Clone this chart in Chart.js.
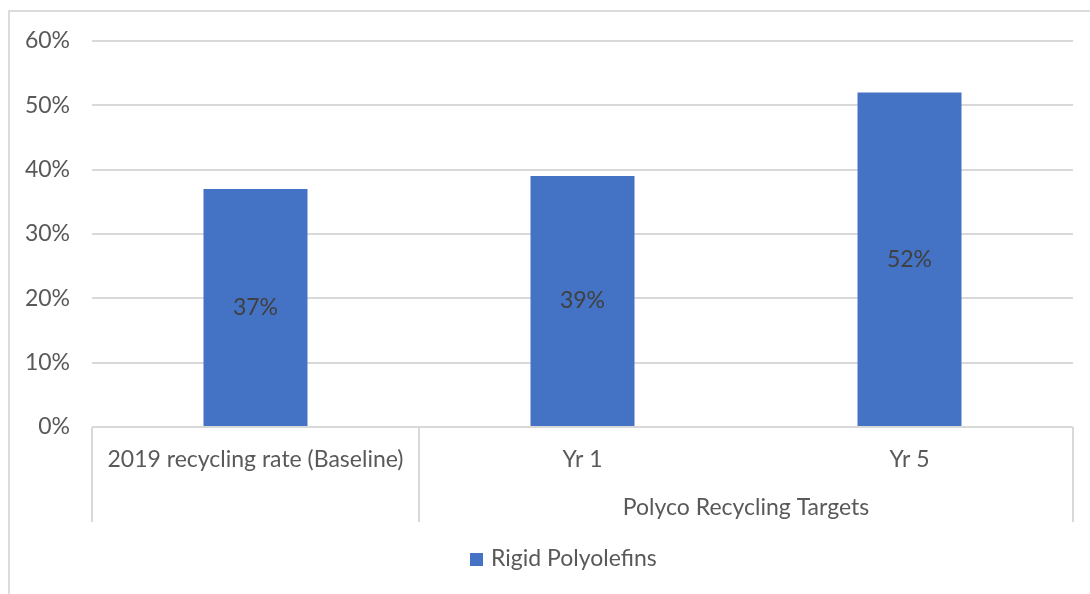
<!DOCTYPE html>
<html>
<head>
<meta charset="utf-8">
<script src="https://cdn.jsdelivr.net/npm/chart.js@4.4.1/dist/chart.umd.min.js"></script>
<style>
  html, body { margin: 0; padding: 0; background: #fff; overflow: hidden; }
  #frame {
    position: absolute; left: 8px; top: 10px;
    width: 1100px; height: 600px;
    border: 2px solid #dcdcdc; box-sizing: border-box;
  }
  #chart { position: absolute; left: 0; top: 0; }
</style>
</head>
<body>
<div id="frame"></div>
<canvas id="chart" width="1090" height="594"></canvas>
<script>
// categories and their outer grouping
const categories = ["2019 recycling rate (Baseline)", "Yr 1", "Yr 5"];
const groupLabels = ["", "Polyco Recycling Targets"];
const groupStarts = [0, 1];
const groupEnds = [0, 2];

// series
const seriesName = "Rigid Polyolefins";
const rates = [0.37, 0.39, 0.52];

// y axis ticks
const yTicks = [0, 0.1, 0.2, 0.3, 0.4, 0.5, 0.6];

const FONT = "Lato, 'Open Sans', sans-serif";
const TEXT = "#595959";
const LINE = "#d9d9d9";
const BAR = "#4472c4";
const pct = v => Math.round(v * 100) + "%";

// value labels in the middle of each bar
const barLabels = {
  id: "barLabels",
  afterDatasetsDraw(chart) {
    const { ctx } = chart;
    ctx.save();
    ctx.font = "23px " + FONT;
    ctx.fillStyle = "#404040";
    ctx.textAlign = "center";
    ctx.textBaseline = "middle";
    chart.getDatasetMeta(0).data.forEach((bar, i) => {
      const v = chart.data.datasets[0].data[i];
      ctx.fillText(pct(v), bar.x, (bar.y + bar.base) / 2);
    });
    ctx.restore();
  }
};

// separator lines and the second row of category labels
const categoryFrame = {
  id: "categoryFrame",
  afterDraw(chart) {
    const { ctx, chartArea } = chart;
    const x = chart.scales.x;
    const half = (x.getPixelForValue(1) - x.getPixelForValue(0)) / 2;
    const top = chartArea.bottom;
    const bottom = chartArea.bottom + 95;
    const edges = new Set();
    groupStarts.forEach((s, i) => {
      edges.add(Math.round(x.getPixelForValue(s) - half));
      edges.add(Math.round(x.getPixelForValue(groupEnds[i]) + half));
    });
    ctx.save();
    ctx.strokeStyle = LINE;
    ctx.lineWidth = 2;
    edges.forEach(px => {
      ctx.beginPath();
      ctx.moveTo(px, top);
      ctx.lineTo(px, bottom);
      ctx.stroke();
    });
    ctx.font = "23px " + FONT;
    ctx.fillStyle = TEXT;
    ctx.textAlign = "center";
    ctx.textBaseline = "middle";
    groupLabels.forEach((g, i) => {
      if (!g) return;
      const cx = (x.getPixelForValue(groupStarts[i]) + x.getPixelForValue(groupEnds[i])) / 2;
      ctx.fillText(g, cx, chartArea.bottom + 81);
    });

    // legend
    const ds = chart.data.datasets[0];
    ctx.fillStyle = ds.backgroundColor;
    ctx.fillRect(470, 553, 13, 13);
    ctx.fillStyle = TEXT;
    ctx.textAlign = "left";
    ctx.fillText(ds.label, 491, 559);
    ctx.restore();
  }
};

new Chart(document.getElementById("chart"), {
  type: "bar",
  data: {
    labels: categories,
    datasets: [{
      label: seriesName,
      data: rates,
      backgroundColor: BAR,
      categoryPercentage: 1,
      barPercentage: 0.318
    }]
  },
  options: {
    responsive: false,
    animation: false,
    layout: { padding: { top: 41, right: 17, left: 0, bottom: 0 } },
    plugins: {
      legend: { display: false },
      tooltip: { enabled: false }
    },
    scales: {
      x: {
        grid: { display: false },
        border: { display: false },
        ticks: {
          color: TEXT,
          font: { family: FONT, size: 23 },
          padding: 11,
          maxRotation: 0,
          autoSkip: false
        },
        afterFit(scale) { scale.height = 167; }
      },
      y: {
        min: 0,
        max: 0.6,
        afterBuildTicks(scale) { scale.ticks = yTicks.map(v => ({ value: v })); },
        ticks: {
          color: TEXT,
          font: { family: FONT, size: 23 },
          padding: 22,
          callback: v => pct(v)
        },
        grid: { color: LINE, lineWidth: 2, drawTicks: false },
        border: { display: false },
        afterFit(scale) { scale.width = 92; }
      }
    }
  },
  plugins: [barLabels, categoryFrame]
});
</script>
</body>
</html>
